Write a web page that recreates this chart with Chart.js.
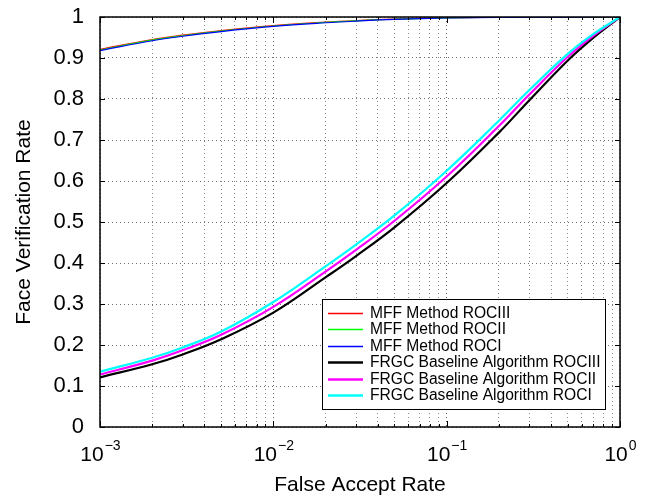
<!DOCTYPE html>
<html>
<head>
<meta charset="utf-8">
<script src="https://cdn.jsdelivr.net/npm/chart.js@4.4.1/dist/chart.umd.min.js"></script>
<style>
  html, body { margin: 0; padding: 0; background: #fff; }
  #wrap { width: 654px; height: 498px; }
</style>
</head>
<body>
<div id="wrap"><canvas id="roc" width="654" height="498"></canvas></div>
<script>
// False accept rates at which the verification rates were sampled
const falseAcceptRate = [0.001, 0.002, 0.003, 0.005, 0.01, 0.02, 0.03, 0.05, 0.1, 0.2, 0.3, 0.5, 0.7, 1];

// Verification rates per ROC experiment
const mffROCIII = [0.921, 0.945, 0.9557, 0.967, 0.979, 0.9876, 0.9914, 0.995, 0.9983, 0.9994, 0.9997, 0.9999, 1, 1];
const mffROCII  = [0.9195, 0.9435, 0.9543, 0.9657, 0.978, 0.9868, 0.9907, 0.9945, 0.998, 0.9992, 0.9996, 0.9998, 1, 1];
const mffROCI   = [0.918, 0.942, 0.953, 0.9645, 0.977, 0.986, 0.990, 0.994, 0.9975, 0.999, 0.9995, 0.9998, 1, 1];
const frgcROCIII = [0.121, 0.153, 0.177, 0.214, 0.279, 0.365, 0.417, 0.487, 0.595, 0.718, 0.797, 0.894, 0.949, 1];
const frgcROCII  = [0.128, 0.162, 0.187, 0.225, 0.293, 0.379, 0.432, 0.503, 0.611, 0.734, 0.811, 0.903, 0.954, 1];
const frgcROCI   = [0.135, 0.169, 0.194, 0.233, 0.305, 0.392, 0.445, 0.516, 0.625, 0.747, 0.822, 0.910, 0.958, 1];

const seriesLabels = [
  'MFF Method ROCIII',
  'MFF Method ROCII',
  'MFF Method ROCI',
  'FRGC Baseline Algorithm ROCIII',
  'FRGC Baseline Algorithm ROCII',
  'FRGC Baseline Algorithm ROCI'
];

// Axis ticks
const yTickValues = [0, 0.1, 0.2, 0.3, 0.4, 0.5, 0.6, 0.7, 0.8, 0.9, 1];
const yTickLabels = ['0', '0.1', '0.2', '0.3', '0.4', '0.5', '0.6', '0.7', '0.8', '0.9', '1'];
const xMajorTicks = [0.001, 0.01, 0.1, 1];
const xMajorExponents = ['\u22123', '\u22122', '\u22121', '0'];
const xMinorTicks = [
  0.002, 0.003, 0.004, 0.005, 0.006, 0.007, 0.008, 0.009,
  0.02, 0.03, 0.04, 0.05, 0.06, 0.07, 0.08, 0.09,
  0.2, 0.3, 0.4, 0.5, 0.6, 0.7, 0.8, 0.9
];

const FONT = '"Liberation Sans", Arial, Helvetica, sans-serif';
Chart.defaults.font.family = FONT;
Chart.defaults.color = '#000';

const seriesValues = [mffROCIII, mffROCII, mffROCI, frgcROCIII, frgcROCII, frgcROCI];
const seriesColors = ['#ff0000', '#00ff00', '#0000ff', '#000000', '#ff00ff', '#00ffff'];
const seriesWidths = [1.2, 1.2, 1.2, 2.2, 2.2, 2.2];

const datasets = seriesValues.map((vals, i) => ({
  label: seriesLabels[i],
  data: falseAcceptRate.map((far, k) => ({ x: far, y: vals[k] })),
  borderColor: seriesColors[i],
  backgroundColor: seriesColors[i],
  borderWidth: seriesWidths[i],
  pointRadius: 0,
  fill: false,
  tension: 0.4,
  order: seriesValues.length - i   // later series are painted over earlier ones
}));

// Box, inward tick marks, superscripted decade labels and the inset legend
const axesDecor = {
  id: 'axesDecor',
  afterDatasetsDraw(chart) {
    const { ctx, chartArea: a, scales: { x, y } } = chart;
    ctx.save();
    ctx.strokeStyle = '#000';
    ctx.lineWidth = 1.5;
    ctx.setLineDash([]);
    ctx.strokeRect(a.left, a.top, a.right - a.left, a.bottom - a.top);

    ctx.lineWidth = 1;
    ctx.beginPath();
    yTickValues.forEach(v => {
      const py = Math.round(y.getPixelForValue(v)) + 0.5;
      ctx.moveTo(a.left, py); ctx.lineTo(a.left + 5, py);
      ctx.moveTo(a.right, py); ctx.lineTo(a.right - 5, py);
    });
    xMajorTicks.forEach(v => {
      const px = Math.round(x.getPixelForValue(v)) + 0.5;
      ctx.moveTo(px, a.bottom); ctx.lineTo(px, a.bottom - 6);
      ctx.moveTo(px, a.top); ctx.lineTo(px, a.top + 6);
    });
    xMinorTicks.forEach(v => {
      const px = Math.round(x.getPixelForValue(v)) + 0.5;
      ctx.moveTo(px, a.bottom); ctx.lineTo(px, a.bottom - 3);
      ctx.moveTo(px, a.top); ctx.lineTo(px, a.top + 3);
    });
    ctx.stroke();
    ctx.restore();
  },
  afterDraw(chart) {
    const { ctx, chartArea: a, scales: { x } } = chart;
    ctx.save();
    ctx.fillStyle = '#000';
    ctx.textBaseline = 'alphabetic';

    // Decade labels 10^n
    const baseFont = '21px ' + FONT;
    const expFont = '14px ' + FONT;
    xMajorTicks.forEach((v, i) => {
      const px = x.getPixelForValue(v);
      ctx.font = baseFont;
      const wb = ctx.measureText('10').width;
      ctx.font = expFont;
      const we = ctx.measureText(xMajorExponents[i]).width;
      const start = px - (wb + we) / 2;
      ctx.font = baseFont;
      ctx.textAlign = 'left';
      ctx.fillText('10', start, a.bottom + 34);
      ctx.font = expFont;
      ctx.fillText(xMajorExponents[i], start + wb + 1, a.bottom + 23);
    });

    // Legend box in the lower right corner of the plot
    const box = { left: Math.round(a.left + 222), top: Math.round(a.top + 282), right: Math.round(a.right - 15), bottom: Math.round(a.bottom - 18) };
    ctx.fillStyle = '#fff';
    ctx.fillRect(box.left, box.top, box.right - box.left, box.bottom - box.top);
    ctx.strokeStyle = '#000';
    ctx.lineWidth = 1;
    ctx.strokeRect(box.left + 0.5, box.top + 0.5, box.right - box.left, box.bottom - box.top);
    ctx.font = '15.6px ' + FONT;
    ctx.textBaseline = 'middle';
    ctx.textAlign = 'left';
    chart.data.datasets.forEach((ds, i) => {
      const ry = Math.round(box.top + 14 + i * 16.4) + 0.5;
      ctx.strokeStyle = ds.borderColor;
      ctx.lineWidth = ds.borderWidth < 2 ? 1.5 : 2.5;
      ctx.beginPath();
      ctx.moveTo(box.left + 6, ry);
      ctx.lineTo(box.left + 41, ry);
      ctx.stroke();
      ctx.fillStyle = '#000';
      ctx.fillText(ds.label, box.left + 48, ry + 0.5);
    });
    ctx.restore();
  }
};

new Chart(document.getElementById('roc'), {
  type: 'line',
  data: { datasets },
  options: {
    responsive: false,
    animation: false,
    devicePixelRatio: 1,
    layout: { padding: { left: 0, right: 34, top: 17, bottom: 0 } },
    plugins: { legend: { display: false }, tooltip: { enabled: false } },
    scales: {
      x: {
        type: 'logarithmic',
        position: 'bottom',
        min: 0.001,
        max: 1,
        afterBuildTicks(scale) {
          scale.ticks = xMajorTicks.concat(xMinorTicks)
            .sort((p, q) => p - q)
            .map(v => ({ value: v, major: xMajorTicks.includes(v) }));
        },
        afterFit(scale) {
          scale.height = 71;
          scale.paddingLeft = 0; scale.paddingRight = 0;
        },
        ticks: { display: false, autoSkip: false },
        grid: {
          drawTicks: false,
          lineWidth: 1,
          color: ctx => (ctx.tick && ctx.tick.major) ? '#606060' : '#8c8c8c'
        },
        border: { display: false, dash: [1, 3] },
        title: {
          display: true,
          text: 'False Accept Rate',
          font: { size: 21 },
          color: '#000',
          padding: { top: 0, bottom: 0 }
        }
      },
      y: {
        type: 'linear',
        min: 0,
        max: 1,
        afterBuildTicks(scale) {
          scale.ticks = yTickValues.map(v => ({ value: v }));
        },
        afterFit(scale) {
          scale.width = 100;
          scale.paddingTop = 0; scale.paddingBottom = 0;
        },
        ticks: {
          autoSkip: false,
          padding: 16,
          font: { size: 22 },
          color: '#000',
          callback: (v) => {
            const k = yTickValues.findIndex(t => Math.abs(t - v) < 1e-9);
            return k >= 0 ? yTickLabels[k] : '';
          }
        },
        grid: { drawTicks: false, lineWidth: 1, color: '#707070' },
        border: { display: false, dash: [1, 3] },
        title: {
          display: true,
          text: 'Face Verification Rate',
          font: { size: 21 },
          color: '#000',
          padding: { top: 12, bottom: 0 }
        }
      }
    }
  },
  plugins: [axesDecor]
});
</script>
</body>
</html>
